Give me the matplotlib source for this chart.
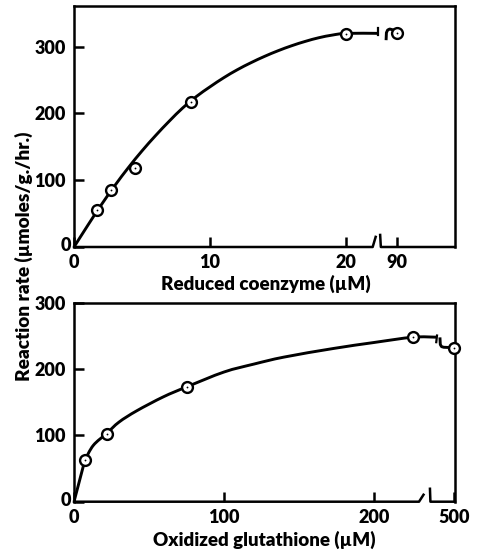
import numpy as np
import matplotlib
matplotlib.use('Agg')
import matplotlib.pyplot as plt
from matplotlib.path import Path
from matplotlib.patches import PathPatch
from matplotlib.transforms import ScaledTranslation

# ---------------- data ----------------
# Top panel: reduced coenzyme
coenzyme_conc = [1.7, 2.7, 4.5, 8.6, 20, 90]
coenzyme_rate = [55, 86, 119, 217, 319, 321]
coenzyme_curve_x = [0, 1, 2, 3, 4, 5, 6, 7, 8, 9, 10, 11, 12, 13, 14, 15, 16, 17, 18, 19, 20, 22.35]
coenzyme_curve_y = [0, 32, 63, 92, 119, 144, 167, 188.5, 208.5, 225.5, 240, 253.5, 265.5,
                    276, 285.5, 294, 301.5, 308, 313.5, 317.5, 320, 320]
coenzyme_xticks = [0, 10, 20, 90]
# Bottom panel: oxidized glutathione
gssg_conc = [7.3, 21.8, 75, 226, 500]
gssg_rate = [63, 102, 173, 248, 232]
gssg_curve_x = [0, 7.3, 12.9, 21.8, 30, 41.8, 59.5, 75, 100, 120, 140, 173, 200, 226, 241.5]
gssg_curve_y = [0, 63, 85, 103, 120, 137, 158, 173, 195.5, 207.5, 218, 231, 240, 248, 248]
gssg_xticks = [0, 100, 200, 500]
rate_ticks = [0, 100, 200, 300]

FONT = 'Lato'
plt.rcParams['font.family'] = [FONT, 'DejaVu Sans']
WEIGHT = 'heavy'

W, H = 479, 551
fig = plt.figure(figsize=(W / 100, H / 100), dpi=100)


def box(l, t, r, b):
    return [l / W, 1 - b / H, (r - l) / W, (b - t) / H]

ax1 = fig.add_axes(box(74, 6, 455, 247))
ax2 = fig.add_axes(box(74, 302.7, 455, 501.7))

# piecewise-linear broken x scales
top_xp = [-1000, 22.5, 88, 1000]
top_fp = [-1000, 22.5, 22.9, 22.9 + 912 * 0.425]
bot_xp = [-1000, 242, 490, 2000]
bot_fp = [-1000, 242, 243.6, 243.6 + 1510 * 0.99]


def make_scale(xp, fp):
    fwd = lambda x: np.interp(x, xp, fp)
    inv = lambda f: np.interp(f, fp, xp)
    return fwd, inv

fwd1, inv1 = make_scale(top_xp, top_fp)
fwd2, inv2 = make_scale(bot_xp, bot_fp)

ax1.set_xscale('function', functions=(fwd1, inv1))
ax2.set_xscale('function', functions=(fwd2, inv2))
ax1.set_xlim(0, 100)
ax1.set_ylim(0, 361)
ax2.set_xlim(0, 500.5)
ax2.set_ylim(0, 300)

LW_AX = 1.8
LW_C = 2.1

for ax, xt in ((ax1, coenzyme_xticks), (ax2, gssg_xticks)):
    for s in ('left', 'right', 'top'):
        ax.spines[s].set_linewidth(LW_AX)
        ax.spines[s].set_capstyle('projecting')
    ax.spines['bottom'].set_visible(False)
    ax.set_xticks(xt)
    ax.set_xticklabels([str(v) for v in xt])
    ax.set_yticks(rate_ticks)
    ax.set_yticklabels([str(v) for v in rate_ticks])
    ax.minorticks_off()
    ax.tick_params(axis='both', direction='in', length=7, width=LW_AX,
                   labelsize=13, top=False, right=False)
    ax.tick_params(axis='y', pad=6)
    ax.tick_params(axis='x', pad=5)
    for lab in ax.get_xticklabels() + ax.get_yticklabels():
        lab.set_fontweight(WEIGHT)
    # the y "0" sits tucked into the corner in the reference
    zero = ax.get_yticklabels()[0]
    zero.set_transform(zero.get_transform() + ScaledTranslation(4 / 72, 2 / 72, fig.dpi_scale_trans))


def fr(ax, fwd, f):
    return f / fwd(ax.get_xlim()[1])


def broken_axis(ax, fwd, lend, lend2, lh, rstart, rstart2, rh):
    ax.plot([0, fr(ax, fwd, lend), fr(ax, fwd, lend2)], [0, 0, lh], color='black',
            lw=LW_AX, transform=ax.transAxes, clip_on=False, solid_capstyle='projecting')
    ax.plot([fr(ax, fwd, rstart), fr(ax, fwd, rstart2), 1], [rh, 0, 0],
            color='black', lw=LW_AX, transform=ax.transAxes, clip_on=False,
            solid_capstyle='projecting')

broken_axis(ax1, fwd1, 21.95, 22.17, 0.042, 22.5, 22.55, 0.05)
broken_axis(ax2, fwd2, 230, 233, 0.035, 237.3, 237.6, 0.065)


def smooth_path(xs, ys):
    """Catmull-Rom through the read points, drawn as cubic Bezier segments."""
    p = np.column_stack([xs, ys]).astype(float)
    ext = np.vstack([p[0], p, p[-1]])
    verts = [p[0]]
    codes = [Path.MOVETO]
    for i in range(len(p) - 1):
        p0, p1, p2, p3 = ext[i], ext[i + 1], ext[i + 2], ext[i + 3]
        verts += [p1 + (p2 - p0) / 6, p2 - (p3 - p1) / 6, p2]
        codes += [Path.CURVE4] * 3
    return Path(verts, codes)

# top curve: smooth
ax1.add_patch(PathPatch(smooth_path(coenzyme_curve_x, coenzyme_curve_y), fc='none',
                        ec='black', lw=LW_C, zorder=3, joinstyle='round', capstyle='butt'))
# bottom curve: straight rise to first point, smooth afterwards
ax2.plot(gssg_curve_x[:2], gssg_curve_y[:2], color='black', lw=LW_C, zorder=3,
         solid_capstyle='butt')
ax2.add_patch(PathPatch(smooth_path(gssg_curve_x[1:], gssg_curve_y[1:]), fc='none',
                        ec='black', lw=LW_C, zorder=3, joinstyle='round', capstyle='butt'))

# break ticks and hooks on the curves
end1x = coenzyme_curve_x[-1]
ax1.plot([end1x, end1x], [coenzyme_curve_y[-1] - 3, coenzyme_curve_y[-1] + 8], color='black',
         lw=1.6, zorder=3)
hook1_f = [22.94, 22.96, 23.05, 23.2, 23.49]
hook1_y = [312, 321, 325, 326.5, 325]
ax1.plot(inv1(np.array(hook1_f)), hook1_y, color='black', lw=LW_C, zorder=3,
         solid_joinstyle='round')

end2x = gssg_curve_x[-1]
ax2.plot([end2x, end2x + 0.8], [240.5, 250.5], color='black', lw=1.6, zorder=3)
hook2_f = [244.0, 244.2, 245.0, 246.5, 250.0]
hook2_y = [245.5, 237.0, 233.8, 232.8, 232.5]
ax2.plot(inv2(np.array(hook2_f)), hook2_y, color='black', lw=LW_C, zorder=3,
         solid_joinstyle='round')

# points
for ax, xs, ys in ((ax1, coenzyme_conc, coenzyme_rate), (ax2, gssg_conc, gssg_rate)):
    ax.plot(xs, ys, linestyle='none', marker='o', ms=7.8, mfc='white', mec='black',
            mew=1.7, zorder=5, clip_on=False)
    ax.plot(xs, ys, linestyle='none', marker='o', ms=1.3, mfc='black', mec='none',
            zorder=6, clip_on=False)

# labels
ax1.set_xlabel('Reduced coenzyme (\u00b5M)', fontsize=13.5, fontweight=WEIGHT)
ax1.xaxis.set_label_coords((266 - 74) / 381, -(284 - 247) / 241)
ax1.xaxis.label.set_va('center')
ax2.set_xlabel('Oxidized glutathione (\u00b5M)', fontsize=13.5, fontweight=WEIGHT)
ax2.xaxis.set_label_coords((264 - 74) / 381, -(540 - 501.7) / 199)
ax2.xaxis.label.set_va('center')
fig.text(24 / W, 1 - 256.5 / H, 'Reaction rate (\u00b5moles/g./hr.)', rotation=90,
         ha='center', va='center', fontsize=13.7, fontweight=WEIGHT)

fig.savefig('out.png', dpi=100, facecolor='white')
